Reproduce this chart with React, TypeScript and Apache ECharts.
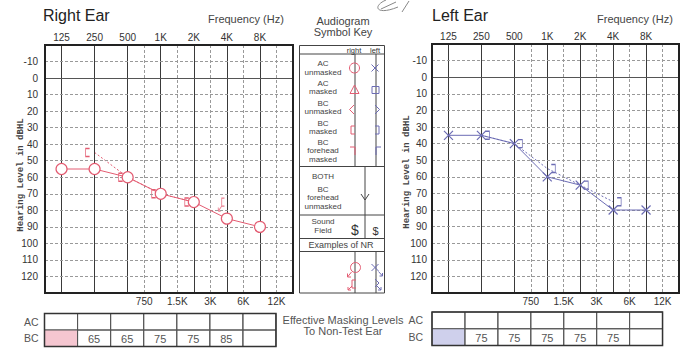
import React, { useEffect, useRef } from 'react';
import * as echarts from 'echarts';

// ---------- data ----------
const octaveLabels = ['125', '250', '500', '1K', '2K', '4K', '8K'];
const octavePos = [0, 1, 2, 3, 4, 5, 6];
const halfOctaveLabels = ['750', '1.5K', '3K', '6K', '12K'];
const halfOctavePos = [2.5, 3.5, 4.5, 5.5, 6.5];
const dbLevels = [-10, 0, 10, 20, 30, 40, 50, 60, 70, 80, 90, 100, 110, 120];

const rightAC = [55, 55, 60, 70, 75, 85, 90];
const rightBCMasked: (number | null)[] = [null, 45, 60, 70, 75, null, null];
const rightBCMaskedNR: (number | null)[] = [null, null, null, null, null, 75, null];
const leftAC = [35, 35, 40, 60, 65, 80, 80];
const leftBCMasked: (number | null)[] = [null, 35, 40, 55, 65, 75, null];

const tableRows = ['AC', 'BC'];
const rightMaskAC = ['', '', '', '', '', '', ''];
const rightMaskBC = ['', '65', '65', '75', '75', '85', ''];
const leftMaskAC = ['', '', '', '', '', '', ''];
const leftMaskBC = ['', '75', '75', '75', '75', '75', ''];
const shadedBCCol = 0;

// ---------- styles ----------
const RED = '#e35c72';
const BLUE = '#6c6cb4';
const KEY = '#444';
const SANS = "'Liberation Sans', Arial, sans-serif";
const NARROW = "'Liberation Sans Narrow', 'Liberation Sans', Arial, sans-serif";

const toPairs = (arr: (number | null)[]) =>
  arr.map((v, i) => (v == null ? null : [i, v])).filter((d) => d !== null);

const gridLineSeries = (xi: number, yi: number) => ({
  type: 'line',
  xAxisIndex: xi,
  yAxisIndex: yi,
  data: [],
  silent: true,
  z: 1,
  markLine: {
    silent: true,
    symbol: ['none', 'none'],
    label: { show: false },
    emphasis: { disabled: true },
    data: [
      ...octavePos.map((p) => ({ xAxis: p, lineStyle: { color: '#3a3a3a', width: 1, type: 'solid' } })),
      ...halfOctavePos.map((p) => ({ xAxis: p, lineStyle: { color: '#999', width: 1, type: [3, 2] } })),
      ...dbLevels.map((v) => ({ yAxis: v, lineStyle: { color: v === 0 ? '#555' : '#999', width: 1, type: v === 0 ? 'solid' : [3, 2] } })),
    ],
  },
});

const plotXAxes = (gridIndex: number) => [
  {
    type: 'value', gridIndex, position: 'top', min: -0.5, max: 7, interval: 0.5,
    axisLine: { show: false }, axisTick: { show: false }, splitLine: { show: false },
    axisLabel: {
      margin: 3, fontSize: 10, color: '#333', fontFamily: SANS,
      formatter: (v: number) => { const i = octavePos.indexOf(v); return i >= 0 ? octaveLabels[i] : ''; },
    },
  },
  {
    type: 'value', gridIndex, position: 'bottom', min: -0.5, max: 7, interval: 0.5,
    axisLine: { show: false }, axisTick: { show: false }, splitLine: { show: false },
    axisLabel: {
      margin: 3, fontSize: 10, color: '#333', fontFamily: SANS,
      formatter: (v: number) => { const i = halfOctavePos.indexOf(v); return i >= 0 ? halfOctaveLabels[i] : ''; },
    },
  },
];

const plotYAxis = (gridIndex: number, margin: number) => ({
  type: 'value', gridIndex, min: -20, max: 130, interval: 10, inverse: true,
  axisLine: { show: false }, axisTick: { show: false }, splitLine: { show: false },
  axisLabel: {
    margin, fontSize: 10, color: '#333', fontFamily: SANS,
    formatter: (v: number) => (dbLevels.indexOf(v) >= 0 ? String(v) : ''),
  },
});

const tableSeries = (xi: number, yi: number, acVals: string[], bcVals: string[], shadeColor: string) => {
  const cells: { c: number; r: number; t: string; shade: boolean }[] = [];
  [acVals, bcVals].forEach((vals, r) =>
    vals.forEach((t, c) => cells.push({ c, r, t, shade: r === 1 && c === shadedBCCol }))
  );
  return {
    type: 'custom',
    xAxisIndex: xi,
    yAxisIndex: yi,
    silent: true,
    z: 2,
    data: cells.map((d) => [d.c, d.r]),
    renderItem: (params: any, api: any) => {
      const d = cells[params.dataIndex];
      const p = api.coord([d.c, d.r]);
      const s = api.size([1, 1]);
      return {
        type: 'group',
        children: [
          {
            type: 'rect',
            shape: { x: p[0] - s[0] / 2, y: p[1] - s[1] / 2, width: s[0], height: s[1] },
            style: { fill: d.shade ? shadeColor : 'none', stroke: '#555', lineWidth: 1 },
          },
          {
            type: 'text',
            x: p[0],
            y: p[1] + 0.5,
            style: { text: d.t, fill: '#555', fontSize: 11, fontFamily: NARROW, align: 'center', verticalAlign: 'middle' },
          },
        ],
      };
    },
  };
};

// ---------- graphic helpers ----------
const T = (x: number, y: number, text: string, fontSize: number, extra: any = {}) => ({
  type: 'text', x, y, silent: true, rotation: extra.rotation || 0,
  style: {
    text, fontSize, fill: extra.fill || KEY, align: extra.align || 'center', verticalAlign: 'middle',
    fontFamily: extra.fontFamily || SANS, fontWeight: extra.fontWeight || 'normal',
    lineHeight: extra.lineHeight || undefined,
  },
});
const L = (x1: number, y1: number, x2: number, y2: number, stroke = KEY, lineWidth = 1) => ({
  type: 'line', silent: true, shape: { x1, y1, x2, y2 }, style: { stroke, lineWidth },
});
const P = (points: number[][], stroke: string, lineWidth = 1) => ({
  type: 'polyline', silent: true, shape: { points }, style: { stroke, fill: 'none', lineWidth },
});
const C = (cx: number, cy: number, r: number, stroke: string) => ({
  type: 'circle', silent: true, shape: { cx, cy, r }, style: { stroke, fill: 'none', lineWidth: 1 },
});

const KF = 8;
const KL = 8.5;
const keyGraphics = [
  { type: 'rect', silent: true, shape: { x: 299.5, y: 45.5, width: 85, height: 247.5 }, style: { fill: 'none', stroke: KEY, lineWidth: 1 } },
  L(299.5, 54, 384.5, 54), L(299.5, 166.5, 384.5, 166.5), L(299.5, 215, 384.5, 215),
  L(299.5, 238.5, 384.5, 238.5), L(299.5, 251.5, 384.5, 251.5),
  L(355, 54, 355, 166.5), L(376, 54, 376, 166.5), L(365, 166.5, 365, 238.5),
  L(355, 251.5, 355, 293), L(376, 251.5, 376, 293),
  T(354, 50, 'right', 7.5, { fill: '#333' }), T(375, 50, 'left', 7.5, { fill: '#333' }),
  T(323, 67.75, 'AC\nunmasked', KF, { lineHeight: KL }),
  T(323, 87.25, 'AC\nmasked', KF, { lineHeight: KL }),
  T(323, 107.25, 'BC\nunmasked', KF, { lineHeight: KL }),
  T(323, 127.25, 'BC\nmasked', KF, { lineHeight: KL }),
  T(323, 150.5, 'BC\nforehead\nmasked', KF, { lineHeight: KL }),
  T(323, 176, 'BOTH', KF),
  T(323, 197.5, 'BC\nforehead\nunmasked', KF, { lineHeight: KL }),
  T(323, 226, 'Sound\nField', KF, { lineHeight: KL }),
  T(341, 245, 'Examples of NR', 9),
  // symbols
  C(354.5, 68, 5, RED),
  L(371.5, 64.5, 378.5, 71.5, BLUE), L(378.5, 64.5, 371.5, 71.5, BLUE),
  { type: 'polygon', silent: true, shape: { points: [[354.5, 85], [350, 93.5], [359, 93.5]] }, style: { fill: 'none', stroke: RED, lineWidth: 1 } },
  { type: 'rect', silent: true, shape: { x: 372, y: 86.5, width: 7, height: 7 }, style: { fill: 'none', stroke: BLUE, lineWidth: 1 } },
  P([[354, 105], [349.5, 109.5], [354, 114]], RED), P([[375, 105], [379.5, 109.5], [375, 114]], BLUE),
  P([[355, 126], [351, 126], [351, 134], [355, 134]], RED), P([[375, 126], [379, 126], [379, 134], [375, 134]], BLUE),
  P([[350, 147], [355, 147], [355, 155]], RED), P([[376, 155], [376, 147], [381, 147]], BLUE),
  P([[361, 194], [365, 200], [369, 194]], KEY),
  T(355, 230, '$', 14, { fill: '#333' }), T(375.5, 230.5, '$', 11, { fill: '#333' }),
  C(355.5, 267.5, 5, RED),
  L(351.5, 272, 347.5, 277, RED), P([[347.5, 273.5], [347.5, 277], [351, 277]], RED),
  P([[356, 280], [352, 280], [352, 288], [356, 288]], RED),
  L(352, 286, 348, 290, RED), P([[348, 287], [348, 290], [351, 290]], RED),
  L(371.5, 264, 378.5, 271, BLUE), L(378.5, 264, 371.5, 271, BLUE),
  L(378.5, 271.5, 382.5, 276, BLUE), P([[382.5, 273], [382.5, 276], [379.5, 276]], BLUE),
  P([[375, 279], [379, 283], [375, 287]], BLUE),
  L(377, 286, 381, 290, BLUE), P([[381, 287], [381, 290], [378, 290]], BLUE),
];

const textGraphics = [
  T(43, 15, 'Right Ear', 16, { align: 'left', fill: '#222' }),
  T(208, 19, 'Frequency (Hz)', 11, { align: 'left', fill: '#444' }),
  T(432, 15, 'Left Ear', 16, { align: 'left', fill: '#222' }),
  T(597, 19, 'Frequency (Hz)', 11, { align: 'left', fill: '#444' }),
  T(343, 26, 'Audiogram\nSymbol Key', 11, { fill: '#444', lineHeight: 11 }),
  T(20.5, 175, 'Hearing Level in dBHL', 9, { rotation: Math.PI / 2, fontFamily: "'Liberation Mono', monospace", fontWeight: 'bold', fill: '#444' }),
  T(406.5, 172, 'Hearing Level in dBHL', 9, { rotation: Math.PI / 2, fontFamily: "'Liberation Mono', monospace", fontWeight: 'bold', fill: '#444' }),
  T(343, 325.5, 'Effective Masking Levels\nTo Non-Test Ear', 11, { fill: '#555', lineHeight: 11 }),
  { type: 'bezierCurve', silent: true, shape: { x1: 386, y1: 0, cpx1: 372, cpy1: 6, cpx2: 376, cpy2: 16, x2: 398, y2: 7 }, style: { stroke: '#888', fill: 'none', lineWidth: 1 } },
  L(381, 9, 396, 2, '#888'),
  L(402, 12, 409, 1, '#888'),
];

const NR_BRACKET = 'path://M10,0 L6,0 L6,8 L10,8 M6,8 L1,13 M1,13 L1,9.5 M1,13 L4.5,13';

export default function App() {
  const ref = useRef<HTMLDivElement>(null);
  useEffect(() => {
    document.body.style.margin = '0';
    if (!ref.current) return;
    const chart = echarts.init(ref.current, undefined, { renderer: 'svg' });
    chart.setOption({
      animation: false,
      backgroundColor: '#ffffff',
      textStyle: { fontFamily: SANS },
      grid: [
        { left: 45, top: 45, width: 248, height: 248, show: true, borderColor: '#222', borderWidth: 2, z: 10 },
        { left: 432, top: 44, width: 247, height: 249, show: true, borderColor: '#222', borderWidth: 2, z: 10 },
        { left: 44.5, top: 313.5, width: 248 * 7 / 7.5, height: 33, show: true, borderColor: '#333', borderWidth: 1.5, z: 10 },
        { left: 432, top: 312, width: 247 * 7 / 7.5, height: 33.5, show: true, borderColor: '#333', borderWidth: 1.5, z: 10 },
      ],
      xAxis: [
        ...plotXAxes(0),
        ...plotXAxes(1),
        { type: 'value', gridIndex: 2, min: -0.5, max: 6.5, show: false },
        { type: 'value', gridIndex: 3, min: -0.5, max: 6.5, show: false },
      ],
      yAxis: [
        plotYAxis(0, 7),
        plotYAxis(1, 5),
        {
          type: 'category', gridIndex: 2, data: tableRows, inverse: true,
          axisLine: { show: false }, axisTick: { show: false }, splitLine: { show: false },
          axisLabel: { margin: 6, fontSize: 10.5, color: '#555', fontFamily: SANS },
        },
        {
          type: 'category', gridIndex: 3, data: tableRows, inverse: true,
          axisLine: { show: false }, axisTick: { show: false }, splitLine: { show: false },
          axisLabel: { margin: 9, fontSize: 10.5, color: '#555', fontFamily: SANS },
        },
      ],
      graphic: [...textGraphics, ...keyGraphics],
      series: [
        gridLineSeries(0, 0),
        gridLineSeries(2, 1),
        {
          name: 'Right BC masked', type: 'line', xAxisIndex: 0, yAxisIndex: 0, z: 4,
          data: toPairs(rightBCMasked),
          symbol: 'path://M4,0 L0,0 L0,8 L4,8', symbolSize: [4, 8], symbolOffset: [-7, 0],
          itemStyle: { color: 'rgba(0,0,0,0)', borderColor: RED, borderWidth: 1 },
          lineStyle: { color: RED, width: 1, type: [2, 2] },
        },
        {
          name: 'Right BC masked NR', type: 'scatter', xAxisIndex: 0, yAxisIndex: 0, z: 4,
          data: toPairs(rightBCMaskedNR),
          symbol: NR_BRACKET, symbolSize: [9, 13], symbolKeepAspect: true, symbolOffset: [-5.5, 2.5],
          itemStyle: { color: 'rgba(0,0,0,0)', borderColor: RED, borderWidth: 1 },
        },
        {
          name: 'Right AC', type: 'line', xAxisIndex: 0, yAxisIndex: 0, z: 5,
          data: toPairs(rightAC),
          symbol: 'circle', symbolSize: 11,
          itemStyle: { color: '#ffffff', borderColor: RED, borderWidth: 1.2 },
          lineStyle: { color: RED, width: 1 },
        },
        {
          name: 'Left BC masked', type: 'line', xAxisIndex: 2, yAxisIndex: 1, z: 4,
          data: toPairs(leftBCMasked),
          symbol: 'path://M0,0 L4,0 L4,8 L0,8', symbolSize: [4, 8], symbolOffset: [6, 0],
          itemStyle: { color: 'rgba(0,0,0,0)', borderColor: BLUE, borderWidth: 1 },
          lineStyle: { color: BLUE, width: 1, type: [2, 2] },
        },
        {
          name: 'Left AC', type: 'line', xAxisIndex: 2, yAxisIndex: 1, z: 5,
          data: toPairs(leftAC),
          symbol: 'path://M0,0 L10,10 M10,0 L0,10', symbolSize: 9,
          itemStyle: { color: 'rgba(0,0,0,0)', borderColor: BLUE, borderWidth: 1.2 },
          lineStyle: { color: BLUE, width: 1 },
        },
        tableSeries(4, 2, rightMaskAC, rightMaskBC, '#f5c6d0'),
        tableSeries(5, 3, leftMaskAC, leftMaskBC, '#cfd0ec'),
      ],
    });
    return () => chart.dispose();
  }, []);
  return <div ref={ref} style={{ width: 699, height: 360 }} />;
}
